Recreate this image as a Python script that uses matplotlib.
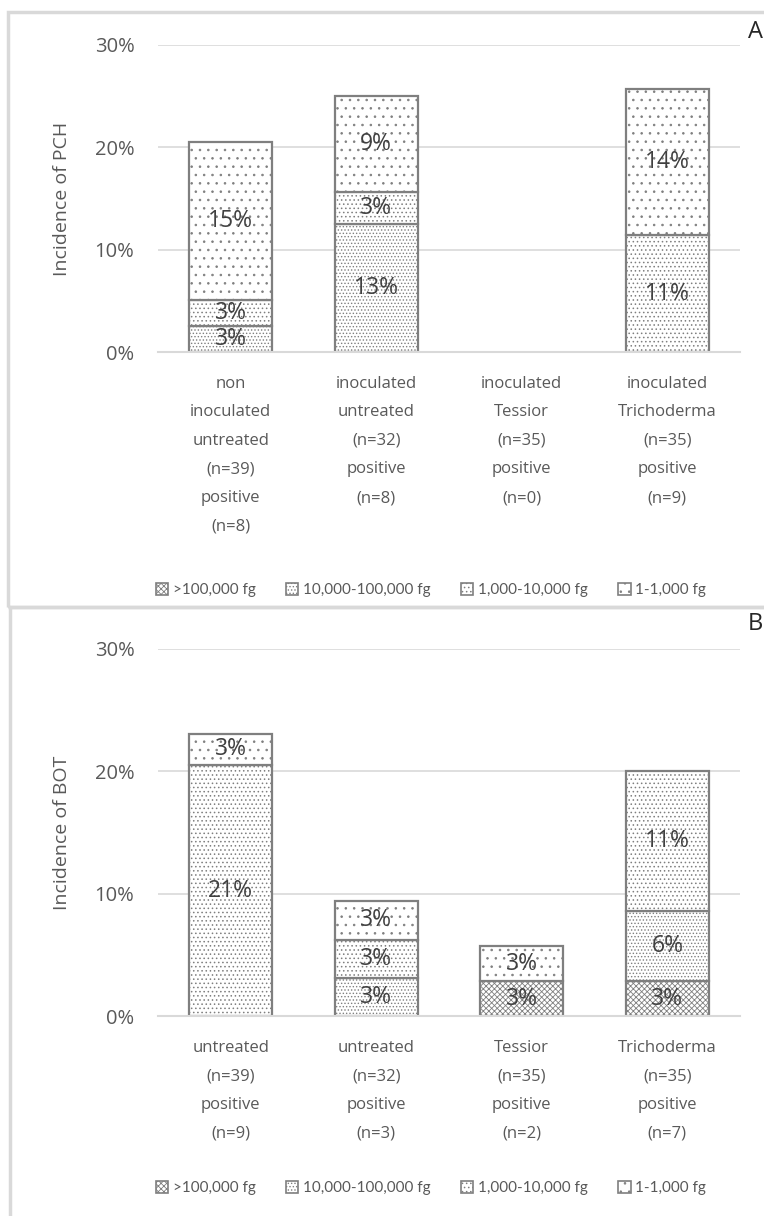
import matplotlib.pyplot as plt
import numpy as np
from matplotlib.patches import Rectangle, Patch

plt.rcParams["font.family"] = ["Open Sans", "DejaVu Sans"]
plt.rcParams["hatch.linewidth"] = 0.6

levels = [">100,000 fg", "10,000-100,000 fg", "1,000-10,000 fg", "1-1,000 fg"]
hatches = ["xxxxxx", ".....", "....", ".."]

labels_pch = [
    "non\ninoculated\nuntreated\n(n=39)\npositive\n(n=8)",
    "inoculated\nuntreated\n(n=32)\npositive\n(n=8)",
    "inoculated\nTessior\n(n=35)\npositive\n(n=0)",
    "inoculated\nTrichoderma\n(n=35)\npositive\n(n=9)",
]
labels_bot = [
    "untreated\n(n=39)\npositive\n(n=9)",
    "untreated\n(n=32)\npositive\n(n=3)",
    "Tessior\n(n=35)\npositive\n(n=2)",
    "Trichoderma\n(n=35)\npositive\n(n=7)",
]

# incidence (%) per level, rows: >100k, 10k-100k, 1k-10k, 1-1k
pch = np.array([
    [0.0, 0.0, 0.0, 0.0],
    [2.56, 12.5, 0.0, 0.0],
    [2.56, 3.125, 0.0, 11.43],
    [15.38, 9.375, 0.0, 14.29],
]) / 100
bot = np.array([
    [0.0, 0.0, 2.86, 2.86],
    [0.0, 3.125, 0.0, 5.71],
    [20.51, 3.125, 0.0, 11.43],
    [2.56, 3.125, 2.86, 0.0],
]) / 100

W, H = 764, 1216
fig = plt.figure(figsize=(W / 100, H / 100), dpi=100)

grey = "#7f7f7f"
txt = "#595959"


def draw(rect, data, cats, ylabel):
    ax = fig.add_axes(rect)
    x = np.arange(len(cats))
    bottom = np.zeros(len(cats))
    for i in range(4):
        vals = data[i]
        keep = vals > 0
        ax.bar(x[keep], vals[keep], 0.57, bottom=bottom[keep], color="white", edgecolor=grey,
               hatch=hatches[i], linewidth=1.6, zorder=2)
        for xi, v, b in zip(x, vals, bottom):
            if v > 0:
                ax.text(xi, b + v / 2, f"{int(v * 100 + 0.5)}%", ha="center", va="center",
                        fontsize=16.5, color="#404040", zorder=3)
        bottom += vals
    ax.set_xlim(-0.5, 3.5)
    ax.set_ylim(0, 0.30)
    ax.set_yticks([0, 0.1, 0.2, 0.3])
    ax.set_yticklabels(["0%", "10%", "20%", "30%"])
    ax.yaxis.grid(True, color="#d9d9d9", linewidth=1.2, zorder=0)
    ax.set_axisbelow(True)
    for s in ["top", "right", "left"]:
        ax.spines[s].set_visible(False)
    ax.spines["bottom"].set_color("#d9d9d9")
    ax.spines["bottom"].set_linewidth(1.5)
    ax.tick_params(axis="y", length=0, labelsize=14.5, colors=txt, pad=17)
    ax.set_xticks(x)
    ax.set_xticklabels(cats, linespacing=2.05, va="top")
    ax.tick_params(axis="x", length=0, labelsize=12, colors=txt, pad=17)
    ax.set_ylabel(ylabel, fontsize=14, color=txt, labelpad=17)
    return ax


axA = draw([158 / W, 1 - 352 / H, 582 / W, 307 / H], pch, labels_pch, "Incidence of PCH")
axB = draw([158 / W, 1 - 1016 / H, 582 / W, 367 / H], bot, labels_bot, "Incidence of BOT")

handles = [Patch(facecolor="white", edgecolor=grey, hatch=h, linewidth=1.2) for h in hatches]
for ax, ly in [(axA, 590), (axB, 1188)]:
    ax.legend(handles, levels, loc="center", bbox_to_anchor=(431 / W, 1 - ly / H),
              bbox_transform=fig.transFigure, frameon=False, ncol=4, labelcolor=txt,
              handlelength=0.8, handleheight=0.8, handletextpad=0.3, columnspacing=2.0,
              prop={"family": ["Lato"], "size": 11})

# panel frames
fig.patches.append(Rectangle((8 / W, 1 - 607 / H), 1.0, 595 / H, transform=fig.transFigure,
                             fill=False, edgecolor="#d9d9d9", linewidth=2.5))
fig.patches.append(Rectangle((10 / W, -0.01), 1.0, 1 - 607 / H + 0.01, transform=fig.transFigure,
                             fill=False, edgecolor="#d9d9d9", linewidth=2.5))
fig.text(755 / W, 1 - 32 / H, "A", fontsize=17, color="#262626", ha="center", va="center")
fig.text(755 / W, 1 - 624 / H, "B", fontsize=17, color="#262626", ha="center", va="center")

fig.savefig("out.png", dpi=100)
